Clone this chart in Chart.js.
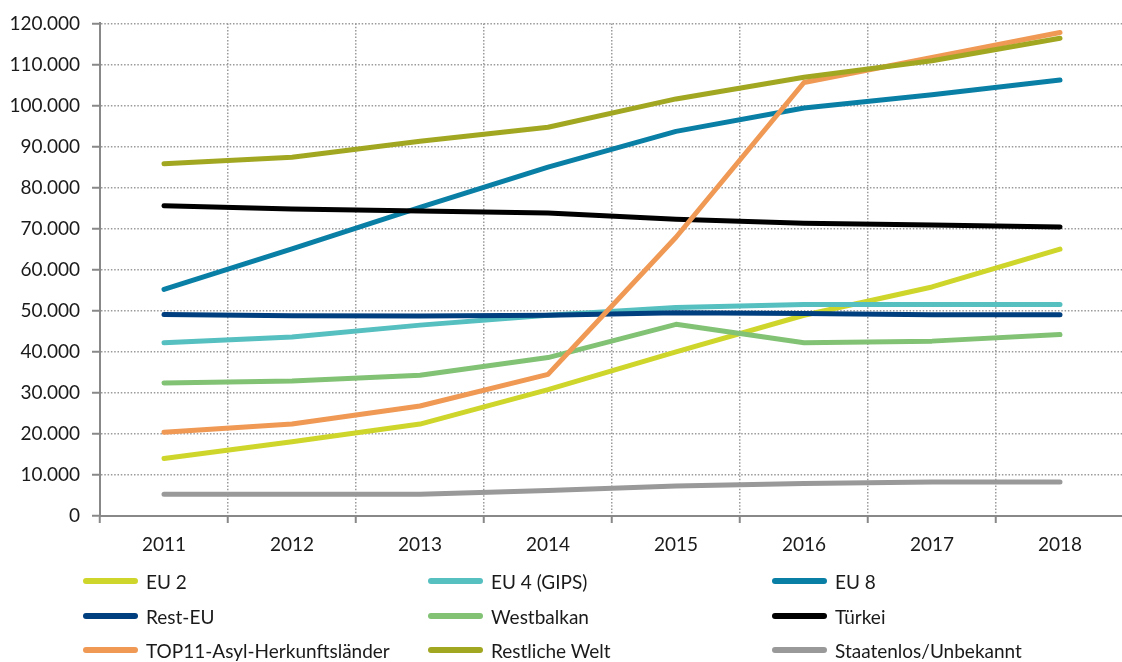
<!DOCTYPE html>
<html>
<head>
<meta charset="utf-8">
<script src="https://cdn.jsdelivr.net/npm/chart.js@4/dist/chart.umd.min.js"></script>
<style>
  html, body { margin: 0; padding: 0; background: #fff; overflow: hidden; }
  #wrap { position: relative; width: 1122px; height: 662px; overflow: hidden; }
  #c { position: absolute; left: 0; top: 0; }
  #legend { position: absolute; left: 0; top: 0; width: 1122px; height: 662px; pointer-events: none;
            font-family: Lato, "Noto Sans", sans-serif; font-size: 19px; color: #1a1a1a; }
  .item { position: absolute; height: 24px; display: flex; align-items: center; white-space: nowrap; }
  .swatch { display: inline-block; width: 55px; height: 6px; border-radius: 3px; margin-right: 8px; }
</style>
</head>
<body>
<div id="wrap">
  <canvas id="c" width="1124" height="560" style="width:1124px;height:560px"></canvas>
  <div id="legend"></div>
</div>
<script>
const categories = ["2011", "2012", "2013", "2014", "2015", "2016", "2017", "2018"];

const seriesNames = ["EU 2", "EU 4 (GIPS)", "EU 8", "Rest-EU", "Westbalkan", "Türkei",
                     "TOP11-Asyl-Herkunftsländer", "Restliche Welt", "Staatenlos/Unbekannt"];

const eu2        = [14000, 18100, 22400, 30800, 40000, 48900, 55800, 65000];
const eu4        = [42200, 43600, 46500, 48900, 50800, 51500, 51500, 51500];
const eu8        = [55200, 65100, 75200, 85000, 93700, 99400, 102600, 106200];
const restEU     = [49100, 48800, 48700, 48900, 49500, 49300, 49000, 49000];
const westbalkan = [32400, 32900, 34300, 38600, 46700, 42200, 42600, 44200];
const tuerkei    = [75600, 74800, 74300, 73800, 72300, 71300, 70900, 70400];
const top11      = [20400, 22400, 26800, 34500, 67900, 105600, 111700, 117800];
const restWelt   = [85800, 87400, 91300, 94700, 101600, 106900, 110900, 116400];
const staatenlos = [5300, 5300, 5300, 6200, 7300, 7900, 8300, 8300];

const seriesValues = [eu2, eu4, eu8, restEU, westbalkan, tuerkei, top11, restWelt, staatenlos];
const seriesColors = ["#cfd62b", "#56bfc0", "#0a7fa6", "#003f7f", "#82c275", "#000000",
                      "#ef9955", "#a2a722", "#999999"];

function fmtDE(v) {
  return String(Math.round(v)).replace(/\B(?=(\d{3})+(?!\d))/g, ".");
}

const datasets = seriesValues.map((vals, i) => ({
  label: seriesNames[i],
  data: vals,
  borderColor: seriesColors[i],
  backgroundColor: seriesColors[i],
  borderWidth: 5,
  pointRadius: 0,
  pointHoverRadius: 0,
  tension: 0,
  fill: false,
  borderCapStyle: "round",
  borderJoinStyle: "round",
  order: seriesValues.length - i
}));

const FONT = { family: "Lato, 'Noto Sans', sans-serif", size: 19 };

const chart = new Chart(document.getElementById("c"), {
  type: "line",
  data: { labels: categories, datasets },
  options: {
    responsive: false,
    animation: false,
    events: [],
    layout: { padding: { top: 23, right: 0, left: 0, bottom: 0 } },
    plugins: { legend: { display: false }, tooltip: { enabled: false } },
    scales: {
      x: {
        offset: true,
        grid: {
          offset: true,
          color: "#9a9a9a",
          lineWidth: 1.5,
          drawTicks: true,
          tickLength: 7,
          tickColor: "#888888",
          tickWidth: 2,
          tickBorderDash: []
        },
        border: { display: true, color: "#888888", width: 2, dash: [1.5, 1.8] },
        ticks: { color: "#1a1a1a", font: FONT, padding: 10, maxRotation: 0 },
        afterFit: (s) => { s.height = 44; }
      },
      y: {
        min: 0,
        max: 120000,
        grid: {
          color: "#9a9a9a",
          lineWidth: 1.5,
          drawTicks: true,
          tickLength: 8,
          tickColor: "#888888",
          tickWidth: 2,
          tickBorderDash: []
        },
        border: { display: true, color: "#888888", width: 2, dash: [1.5, 1.8] },
        ticks: {
          stepSize: 10000,
          color: "#1a1a1a",
          font: FONT,
          padding: 12,
          callback: (v) => fmtDE(v)
        },
        afterFit: (s) => { s.width = 100; }
      }
    }
  }
});

// HTML legend built from datasets, 3 columns
const legend = document.getElementById("legend");
const colX = [83, 428, 772];
const rowY = [581, 616, 650];
chart.data.datasets.forEach((ds, i) => {
  const item = document.createElement("div");
  item.className = "item";
  item.style.left = colX[i % 3] + "px";
  item.style.top = (rowY[Math.floor(i / 3)] - 12) + "px";
  const sw = document.createElement("span");
  sw.className = "swatch";
  sw.style.background = ds.borderColor;
  const tx = document.createElement("span");
  tx.textContent = ds.label;
  item.appendChild(sw);
  item.appendChild(tx);
  legend.appendChild(item);
});
</script>
</body>
</html>
